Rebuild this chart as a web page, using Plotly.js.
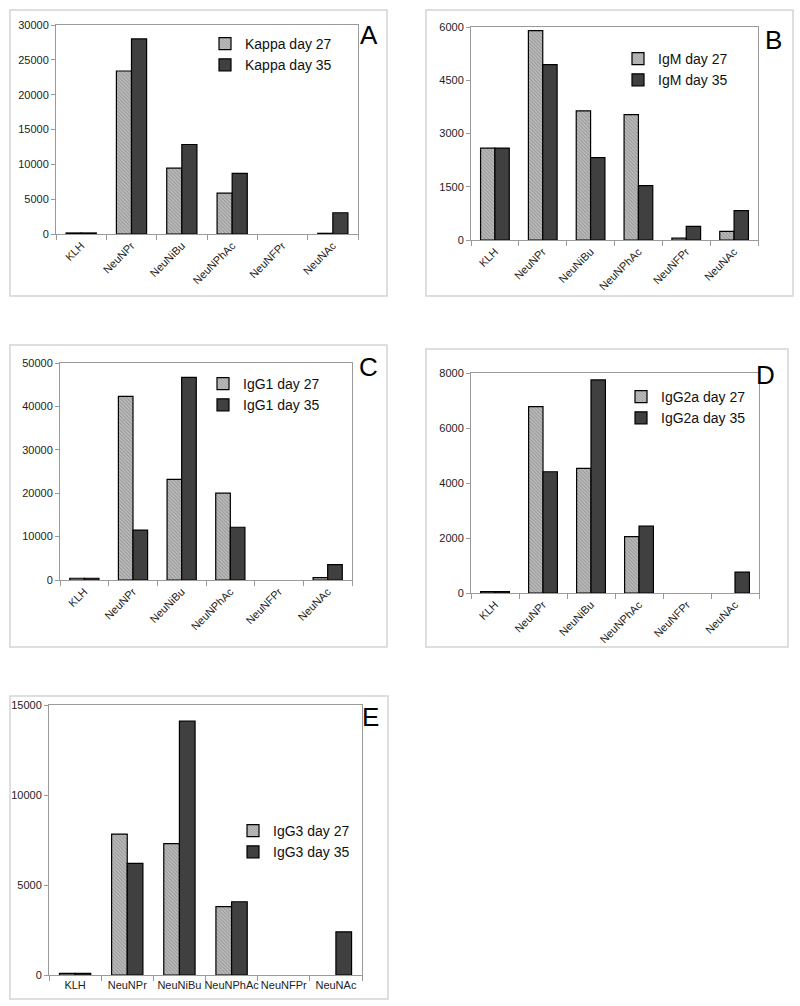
<!DOCTYPE html>
<html>
<head>
<meta charset="utf-8">
<script src="https://cdn.plot.ly/plotly-3.0.1.min.js"></script>
<style>
html,body{margin:0;padding:0;background:#fff;}
#chart{width:800px;height:1006px;}
</style>
</head>
<body>
<div id="chart"></div>
<script>
// ---- data ----
const categories = ["KLH", "NeuNPr", "NeuNiBu", "NeuNPhAc", "NeuNFPr", "NeuNAc"];

const kappaDay27 = [150, 23400, 9450, 5880, 0, 100];
const kappaDay35 = [150, 28000, 12850, 8700, 0, 3050];

const igmDay27 = [2590, 5900, 3640, 3530, 50, 245];
const igmDay35 = [2590, 4940, 2320, 1530, 385, 825];

const igg1Day27 = [400, 42300, 23200, 20000, 0, 550];
const igg1Day35 = [400, 11500, 46700, 12150, 0, 3550];

const igg2aDay27 = [50, 6780, 4530, 2050, 0, 0];
const igg2aDay35 = [50, 4410, 7750, 2430, 0, 760];

const igg3Day27 = [90, 7830, 7300, 3800, 0, 0];
const igg3Day35 = [90, 6200, 14100, 4070, 0, 2400];

const seriesNames = [
  ["Kappa day 27", "Kappa day 35"],
  ["IgM day 27", "IgM day 35"],
  ["IgG1 day 27", "IgG1 day 35"],
  ["IgG2a day 27", "IgG2a day 35"],
  ["IgG3 day 27", "IgG3 day 35"]
];
const panelLetters = ["A", "B", "C", "D", "E"];
const yTicks = [
  [0, 5000, 10000, 15000, 20000, 25000, 30000],
  [0, 1500, 3000, 4500, 6000],
  [0, 10000, 20000, 30000, 40000, 50000],
  [0, 2000, 4000, 6000, 8000],
  [0, 5000, 10000, 15000]
];
const panelData = [
  [kappaDay27, kappaDay35],
  [igmDay27, igmDay35],
  [igg1Day27, igg1Day35],
  [igg2aDay27, igg2aDay35],
  [igg3Day27, igg3Day35]
];

// ---- layout geometry (pixels) ----
const W = 800, H = 1006;
const plotBoxes = [ // [left, right, top, bottom]
  [56, 358, 25, 234],
  [471, 758, 27, 240],
  [60, 352, 363, 580],
  [471, 759, 373, 593],
  [49, 362, 705, 975]
];
const frames = [
  [10, 387, 10, 296],
  [426, 793, 10, 296],
  [10, 387, 345, 647],
  [426, 788, 349, 647],
  [10, 388, 696, 999]
];
const letterPos = [[369, 35], [773, 40], [368, 367], [765, 375], [370, 717]];
const legendPos = [[205, 28], [618, 43], [203, 368], [621, 381], [233, 815]];

const px = x => x / W;
const py = y => 1 - y / H;
const lineWidths = arr => arr.map(v => (v === 0 ? 0 : 1.2));

const traces = [];
const layout = {
  width: W, height: H,
  margin: {l: 0, r: 0, t: 0, b: 0},
  paper_bgcolor: "#fff",
  plot_bgcolor: "#fff",
  bargap: 0.4,
  bargroupgap: 0,
  barmode: "group",
  font: {family: "Liberation Sans, Arial, sans-serif", color: "#222", size: 11},
  shapes: [],
  annotations: []
};

for (let i = 0; i < 5; i++) {
  const sfx = i === 0 ? "" : String(i + 1);
  const xa = "x" + sfx, ya = "y" + sfx;
  const lg = "legend" + sfx;
  const [d27, d35] = panelData[i];
  traces.push({
    type: "bar", x: categories, y: d27, name: seriesNames[i][0],
    xaxis: xa, yaxis: ya, legend: lg,
    marker: {
      color: "#a9a9a9",
      line: {color: "#000", width: lineWidths(d27)},
      pattern: {shape: "\\", fgcolor: "#909090", bgcolor: "#c0c0c0", size: 2.5, solidity: 0.4}
    },
    hoverinfo: "none"
  });
  traces.push({
    type: "bar", x: categories, y: d35, name: seriesNames[i][1],
    xaxis: xa, yaxis: ya, legend: lg,
    marker: {color: "#404040", line: {color: "#000", width: lineWidths(d35)}},
    hoverinfo: "none"
  });
  const [l, r, t, b] = plotBoxes[i];
  const ticks = yTicks[i];
  layout["xaxis" + sfx] = {
    domain: [px(l), px(r)],
    anchor: ya,
    showline: true, linecolor: "#9a9a9a", linewidth: 1, mirror: true,
    ticks: "outside", tickson: "boundaries", ticklen: 5, tickcolor: "#9a9a9a",
    tickangle: i === 4 ? 0 : -45,
    tickfont: {size: 11, color: "#222"},
    showgrid: false, zeroline: false, fixedrange: true
  };
  layout["yaxis" + sfx] = {
    domain: [py(b), py(t)],
    anchor: xa,
    range: [0, ticks[ticks.length - 1]],
    tickvals: ticks,
    ticktext: ticks.map(String),
    showline: true, linecolor: "#9a9a9a", linewidth: 1, mirror: true,
    ticks: "outside", ticklen: 4, tickcolor: "#9a9a9a",
    tickfont: {size: 11, color: "#222"},
    showgrid: false, zeroline: false, fixedrange: true
  };
  layout[lg] = {
    x: px(legendPos[i][0]), y: py(legendPos[i][1]),
    xanchor: "left", yanchor: "top",
    xref: "paper", yref: "paper",
    bgcolor: "rgba(0,0,0,0)",
    font: {size: 14, color: "#111"},
    tracegroupgap: 0,
    itemclick: false, itemdoubleclick: false
  };
  const [fl, fr, ft, fb] = frames[i];
  layout.shapes.push({
    type: "rect", xref: "paper", yref: "paper",
    x0: px(fl), x1: px(fr), y0: py(fb), y1: py(ft),
    line: {color: "#d4d4d4", width: 1.5}, fillcolor: "rgba(0,0,0,0)", layer: "below"
  });
  layout.annotations.push({
    text: panelLetters[i], xref: "paper", yref: "paper",
    x: px(letterPos[i][0]), y: py(letterPos[i][1]),
    xanchor: "center", yanchor: "middle", showarrow: false,
    font: {size: 26, color: "#000"}
  });
}

Plotly.newPlot("chart", traces, layout, {staticPlot: true, displayModeBar: false});
</script>
</body>
</html>
